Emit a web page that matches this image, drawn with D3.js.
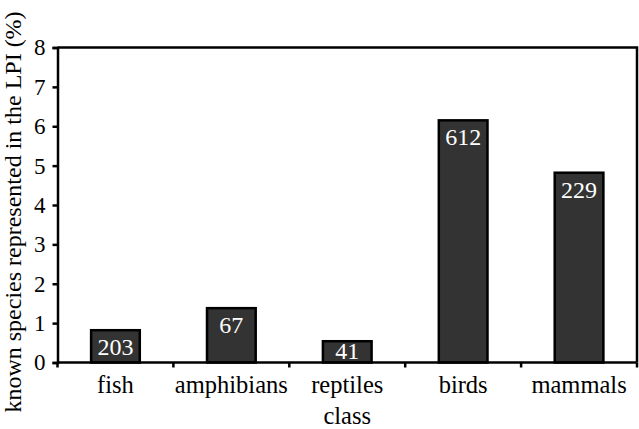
<!DOCTYPE html>
<html>
<head>
<meta charset="utf-8">
<script src="https://cdn.jsdelivr.net/npm/d3@7"></script>
<style>
html,body{margin:0;padding:0;background:#fff;}
svg{display:block;}
</style>
</head>
<body>
<svg id="chart" width="639" height="429"></svg>
<script>
const categories = ["fish", "amphibians", "reptiles", "birds", "mammals"];
const percentages = [0.82, 1.38, 0.54, 6.15, 4.82];
const speciesCounts = ["203", "67", "41", "612", "229"];
const yTicks = [0, 1, 2, 3, 4, 5, 6, 7, 8];
const xTitle = "class";
const yTitle = "known species represented in the LPI (%)";
const FONT = "Liberation Serif";

const svg = d3.select("#chart");
const m = {left: 57.5, right: 2, top: 47.5, bottom: 66.5};
const W = 639, H = 429;
const x0 = m.left, x1 = W - m.right, y0 = H - m.bottom, y1 = m.top;

const x = d3.scaleBand().domain(categories).range([x0, x1]).paddingInner(0.58).paddingOuter(0.29);
const y = d3.scaleLinear().domain([0, 8]).range([y0, y1]);

svg.append("path")
  .attr("d", `M${x0},${y1}H${x1}V${y0}`)
  .attr("fill", "none").attr("stroke", "#000").attr("stroke-width", 2.5);

svg.append("g").selectAll("rect").data(categories).join("rect")
  .attr("x", d => x(d))
  .attr("width", x.bandwidth())
  .attr("y", (d, i) => y(percentages[i]))
  .attr("height", (d, i) => y(0) - y(percentages[i]))
  .attr("fill", "#333333")
  .attr("stroke", "#000").attr("stroke-width", 2.5);

svg.append("g").selectAll("text").data(categories).join("text")
  .attr("x", d => x(d) + x.bandwidth() / 2)
  .attr("y", (d, i) => Math.min(y(percentages[i]) + 25, y(0) - 4))
  .attr("text-anchor", "middle")
  .attr("font-family", FONT)
  .attr("font-size", 24)
  .attr("fill", "#fff")
  .text((d, i) => speciesCounts[i]);

const yAxis = d3.axisLeft(y).tickValues(yTicks).tickSize(5).tickPadding(7).tickFormat(d3.format("d"));
const gy = svg.append("g").attr("transform", `translate(${x0},0)`).call(yAxis)
  .attr("font-family", FONT);
gy.select(".domain").attr("stroke-width", 2.5);
gy.selectAll(".tick line").attr("stroke-width", 2.5);
gy.selectAll(".tick text").attr("font-family", FONT).attr("font-size", 23).attr("fill", "#000");

const xAxis = d3.axisBottom(x).tickSize(0).tickPadding(13);
const gx = svg.append("g").attr("transform", `translate(0,${y0})`).call(xAxis)
  .attr("font-family", FONT);
gx.select(".domain").attr("d", `M${x0},0H${x1}`).attr("stroke-width", 2.5);
gx.selectAll(".tick text").attr("font-family", FONT).attr("font-size", 24.5).attr("fill", "#000");
const half = x.step() * x.paddingInner() / 2;
const bounds = categories.map(c => x(c) - half).concat([x(categories[categories.length - 1]) + x.bandwidth() + half]);
gx.selectAll(".sep").data(bounds).join("line")
  .attr("class", "sep")
  .attr("x1", d => d).attr("x2", d => d)
  .attr("y1", 0).attr("y2", 5)
  .attr("stroke", "#000").attr("stroke-width", 2.5);

svg.append("text")
  .attr("x", (x0 + x1) / 2).attr("y", 424)
  .attr("text-anchor", "middle")
  .attr("font-family", FONT).attr("font-size", 24.5)
  .text(xTitle);
svg.append("text")
  .attr("transform", `translate(21,212) rotate(-90)`)
  .attr("text-anchor", "middle")
  .attr("font-family", FONT).attr("font-size", 24)
  .text(yTitle);
</script>
</body>
</html>
